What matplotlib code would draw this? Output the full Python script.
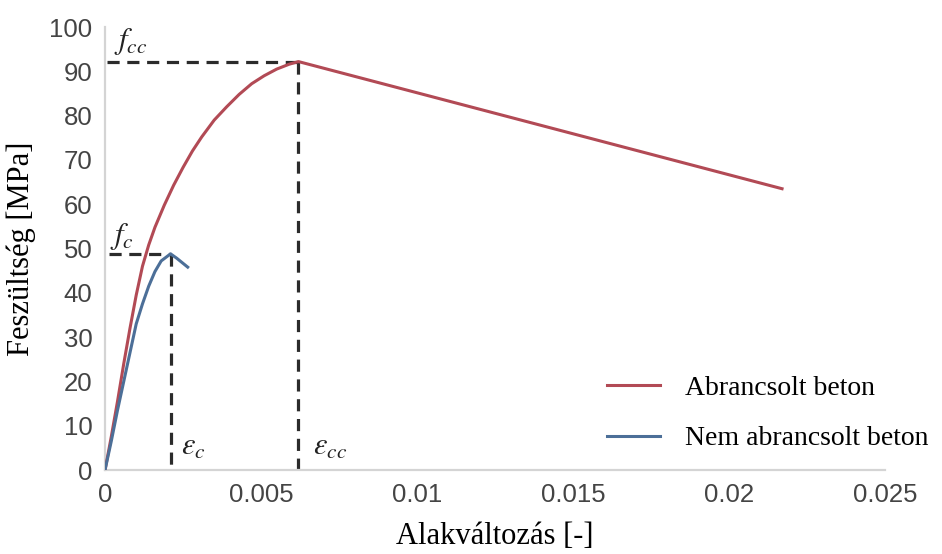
import matplotlib.pyplot as plt

plt.rcParams['mathtext.fontset'] = 'stix'

# Feszültség-alakváltozás görbék (abrancsolt / nem abrancsolt beton)
strain_conf = [0, 0.0002, 0.0004, 0.0006, 0.0008, 0.001, 0.0012, 0.0014, 0.0016,
               0.0019, 0.0022, 0.0025, 0.0028, 0.0031, 0.0035, 0.0039, 0.0043,
               0.0047, 0.0051, 0.0055, 0.0059, 0.0062, 0.0217]
stress_conf = [0, 7.5, 15.5, 24, 32, 39.5, 46, 50.8, 54.8,
               59.8, 64.3, 68.3, 72, 75.2, 79, 82, 84.8,
               87.2, 89, 90.5, 91.6, 92.2, 63.5]

strain_unconf = [0, 0.0002, 0.0004, 0.0006, 0.0008, 0.001, 0.0012, 0.0014, 0.0016,
                 0.0018, 0.0021, 0.0023, 0.00265]
stress_unconf = [0, 6.5, 13.5, 20, 26.5, 33, 37.5, 41.5, 44.8, 47.2, 48.8, 47.8, 45.8]

eps_c, f_c = 0.0021, 48.8
eps_cc, f_cc = 0.0062, 92.2

xticks = [0, 0.005, 0.01, 0.015, 0.02, 0.025]
xticklabels = ['0', '0.005', '0.01', '0.015', '0.02', '0.025']
yticks = list(range(0, 101, 10))

red = '#b24a55'
blue = '#4c6f98'
dash = '#2b2b2b'

fig = plt.figure(figsize=(9.42, 5.54), dpi=100)
ax = fig.add_axes([0.1115, 0.1516, 0.828, 0.7996])

ax.plot(strain_conf, stress_conf, color=red, lw=2.2, label='Abrancsolt beton', zorder=3)
ax.plot(strain_unconf, stress_unconf, color=blue, lw=2.2, label='Nem abrancsolt beton', zorder=4)

# segédvonalak a csúcspontokhoz
ds = (0, (3.8, 2.4))
ax.plot([0.00005, eps_cc], [f_cc, f_cc], color=dash, lw=2.3, linestyle=ds, zorder=2)
ax.plot([eps_cc, eps_cc], [f_cc, 0], color=dash, lw=2.3, linestyle=ds, zorder=2)
ax.plot([0.00012, eps_c], [f_c, f_c], color=dash, lw=2.3, linestyle=ds, zorder=2)
ax.plot([eps_c, eps_c], [f_c, 0], color=dash, lw=2.3, linestyle=ds, zorder=2)

ax.text(0.0003, 95, r'$f_{cc}$', fontsize=22, color='#222222')
ax.text(0.00015, 51, r'$f_c$', fontsize=22, color='#222222')
ax.text(eps_c + 0.00035, 3.5, r'$\varepsilon_c$', fontsize=22, color='#222222')
ax.text(eps_cc + 0.00045, 3.5, r'$\varepsilon_{cc}$', fontsize=22, color='#222222')

ax.set_xlim(0, 0.025)
ax.set_ylim(0, 100)
ax.set_xticks(xticks)
ax.set_xticklabels(xticklabels)
ax.set_yticks(yticks)
ax.tick_params(length=0, labelsize=18.5, labelcolor='#444444', pad=9)
for lab in ax.get_xticklabels() + ax.get_yticklabels():
    lab.set_family('Liberation Sans')

for side in ['top', 'right']:
    ax.spines[side].set_visible(False)
for side in ['left', 'bottom']:
    ax.spines[side].set_color('#d4d4d4')
    ax.spines[side].set_linewidth(1.6)

ax.set_xlabel('Alakváltozás [-]', family='Liberation Serif', fontsize=22, labelpad=11)
ax.set_ylabel('Feszültség [MPa]', family='Liberation Serif', fontsize=22, labelpad=10)

ax.legend(loc='upper left', bbox_to_anchor=(0.612, 0.27), frameon=False,
          prop={'family': 'Liberation Serif', 'size': 20},
          handlelength=1.9, handletextpad=0.9, labelspacing=0.9)

fig.savefig('out.png', dpi=100)
